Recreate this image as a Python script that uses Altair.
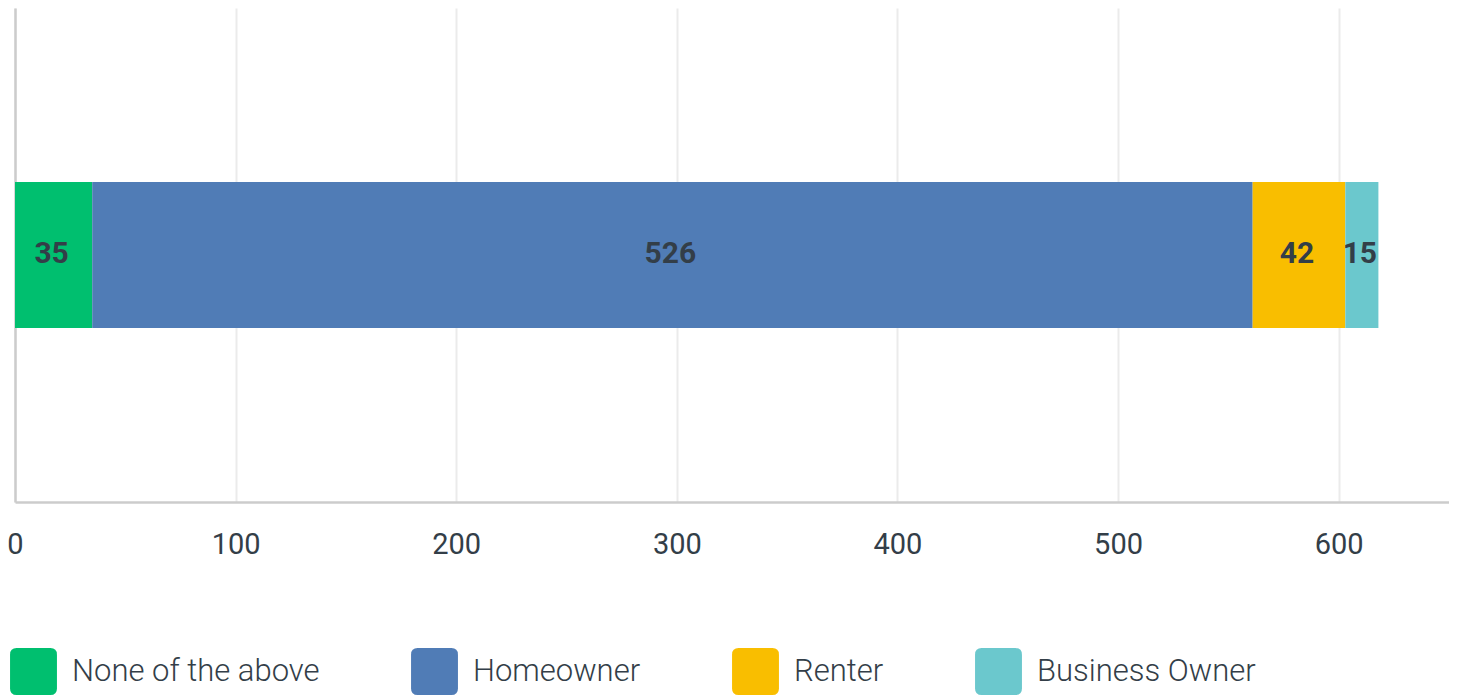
import altair as alt
import pandas as pd

categories = ["None of the above", "Homeowner", "Renter", "Business Owner"]
values = [35, 526, 42, 15]
colors = ["#00bf6f", "#507cb6", "#f9be00", "#6bc8cd"]
tick_values = [0, 100, 200, 300, 400, 500, 600]

df = pd.DataFrame({
    "category": categories,
    "value": values,
    "order": list(range(len(categories))),
    "row": ["all"] * len(categories),
})

color_scale = alt.Scale(domain=categories, range=colors)
x_scale = alt.Scale(domain=[0, 650], nice=False, zero=True)

legend = alt.Legend(
    title=None,
    orient="none",
    legendX=-5,
    legendY=640,
    direction="horizontal",
    symbolType="M -0.72,-1 H 0.72 Q 1,-1 1,-0.72 V 0.72 Q 1,1 0.72,1 H -0.72 Q -1,1 -1,0.72 V -0.72 Q -1,-1 -0.72,-1 Z",
    symbolSize=2200,
    symbolStrokeWidth=0,
    symbolOpacity=1,
    labelFont="Roboto",
    labelFontWeight=300,
    labelFontSize=31,
    labelColor="#333e48",
    labelOffset=15,
    columnPadding=91,
    labelLimit=400,
    padding=0,
)

base = alt.Chart(df).transform_stack(
    stack="value", groupby=["row"], as_=["x0", "x1"], sort=[alt.SortField("order")]
).transform_calculate(mid="(datum.x0 + datum.x1) / 2")

bars = base.mark_bar(size=146).encode(
    x=alt.X("x0:Q", scale=x_scale, axis=alt.Axis(
        values=tick_values, title=None, ticks=False, labelPadding=28,
        labelFlush=False,
        labelFont="Roboto", labelFontWeight="normal", labelFontSize=29, labelColor="#333e48",
        grid=True, gridColor="#ebebeb", gridWidth=2,
        domainColor="#cccccc", domainWidth=2.5)),
    x2="x1:Q",
    y=alt.Y("row:N", axis=alt.Axis(labels=False, ticks=False, title=None,
                                   domainColor="#cccccc", domainWidth=2.5)),
    color=alt.Color("category:N", scale=color_scale, legend=legend,
                    sort=categories),
)

labels = base.mark_text(font="Roboto", fontWeight="bold", fontSize=30, dy=-1, dx=-2,
                        color="#333e48", baseline="middle", align="center").encode(
    x=alt.X("mid:Q", scale=x_scale),
    y=alt.Y("row:N"),
    text=alt.Text("value:Q"),
)

chart = alt.layer(bars, labels).properties(
    width=1434, height=494,
    padding={"left": 7, "top": 0, "right": 0, "bottom": 194},
    autosize=alt.AutoSizeParams(type="none"),
).configure_view(stroke=None)

chart.save("out.html", embed_options={"renderer": "svg", "actions": False})
